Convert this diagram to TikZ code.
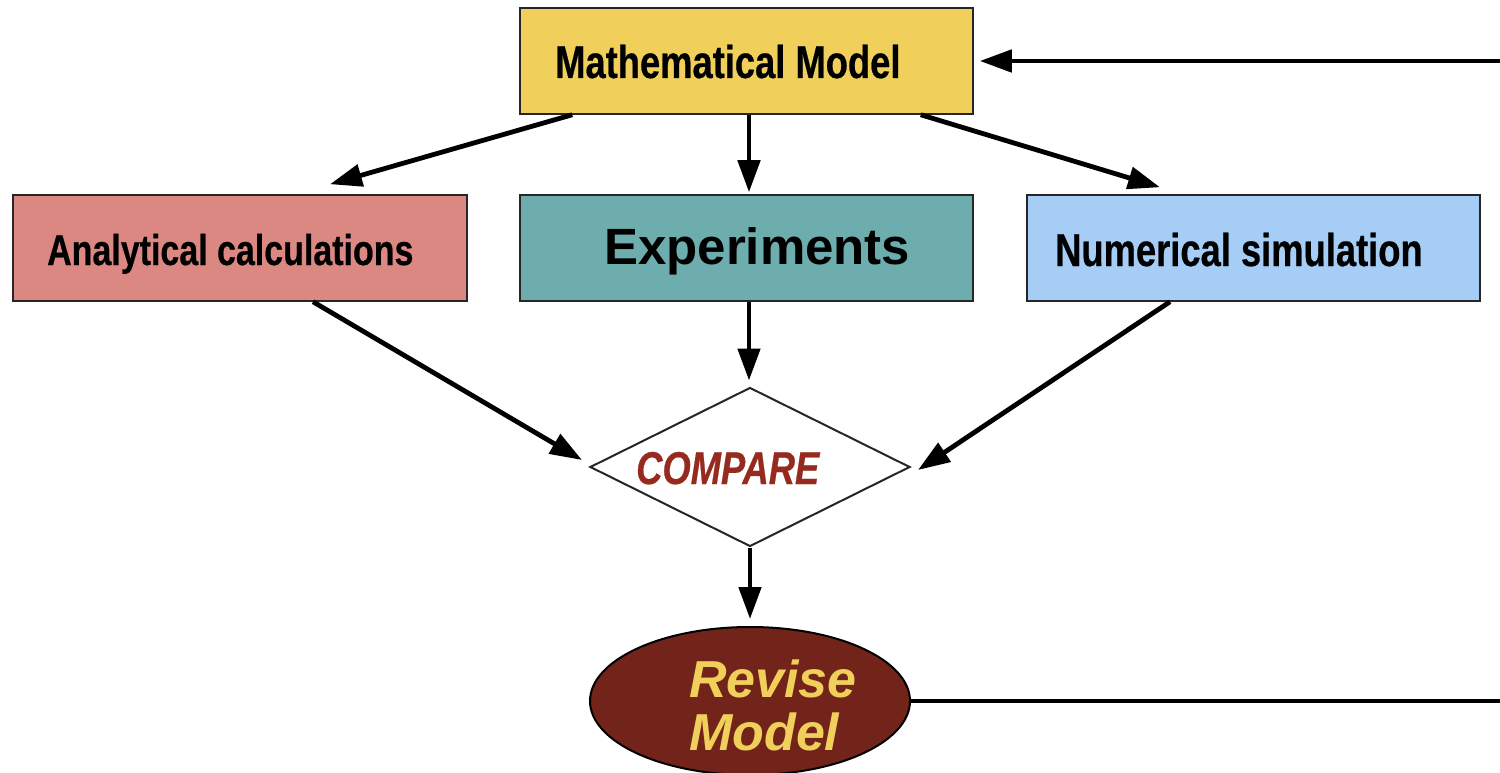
\documentclass[tikz,border=0pt]{standalone}
\usepackage{fontspec}
\setmainfont{Liberation Sans}
\newfontfamily\condfont{Liberation Sans}[FakeStretch=0.79, FakeBold=0.5]
\usetikzlibrary{shapes.geometric,arrows.meta,calc}
\definecolor{cmm}{RGB}{240,208,90}
\definecolor{cac}{RGB}{220,136,130}
\definecolor{cex}{RGB}{110,173,173}
\definecolor{cns}{RGB}{165,205,246}
\definecolor{ccmp}{RGB}{150,42,31}
\definecolor{crm}{RGB}{114,35,26}
\begin{document}
\begin{tikzpicture}[x=1pt,y=-1pt,
  box/.style={draw=black!85, line width=1.5pt, minimum width=453pt, minimum height=106pt, inner sep=0pt},
  lbl/.style={anchor=base west, inner sep=0pt, font=\condfont\bfseries\fontsize{46pt}{50pt}\selectfont},
  arr/.style={line width=4.8pt, -{Triangle[length=32pt,width=22pt]}},
]
\useasboundingbox (0,0) rectangle (1500,773);
\clip (0,0) rectangle (1500,773);
% boxes
\node[box, fill=cmm] (mm) at (746.5,61) {};
\node[box, fill=cac, minimum width=454pt] (ac) at (240,248) {};
\node[box, fill=cex] (ex) at (746.5,248) {};
\node[box, fill=cns] (ns) at (1253.5,248) {};
\node[draw=black!85, line width=2pt, diamond, aspect=2, minimum width=320pt, minimum height=159pt, inner sep=0pt, fill=white] (cmp) at (750,467) {};
\node[draw=black, line width=2pt, ellipse, fill=crm, minimum width=320pt, minimum height=148pt, inner sep=0pt] (rm) at (750,701) {};
% labels
\node[lbl] (mmt) at (555,78) {Mathematical Model};
\node[lbl, font=\condfont\bfseries\fontsize{43pt}{46pt}\selectfont] (act) at (47,265) {Analytical calculations};
\node[lbl, font=\bfseries\fontsize{51pt}{54pt}\selectfont] (ext) at (604,264) {Experiments};
\node[lbl] (nst) at (1055,266) {Numerical simulation};
\node[lbl, text=ccmp, font=\condfont\bfseries\itshape\fontsize{46pt}{50pt}\selectfont] (cmpt) at (636,484) {COMPARE};
\node[inner sep=0pt, align=left, text=cmm, font=\bfseries\itshape\fontsize{52pt}{53pt}\selectfont] (rmt) at (773,705) {Revise\\Model};
% connectors
\draw[arr] ([xshift=53pt]mm.south west) -- ([xshift=90pt,yshift=10pt]ac.north);
\draw[arr] ([xshift=2.5pt]mm.south) -- ([xshift=2.5pt,yshift=2pt]ex.north);
\draw[arr] ([xshift=-53pt]mm.south east) -- ([xshift=-93.5pt,yshift=7pt]ns.north);
\draw[arr] ([xshift=73pt]ac.south) -- ([xshift=-7pt,yshift=7pt]cmp.west);
\draw[arr] ([xshift=2.5pt]ex.south) -- ([xshift=-1pt,yshift=6pt]cmp.north);
\draw[arr] ([xshift=-83.5pt]ns.south) -- ([xshift=7pt,yshift=-3pt]cmp.east);
\draw[arr] (cmp.south) -- ([yshift=7pt]rm.north);
\coordinate (fb) at (1520,400);
\draw[arr] (rm.east) -| (fb) |- ([xshift=6pt]mm.east);
\end{tikzpicture}
\end{document}
